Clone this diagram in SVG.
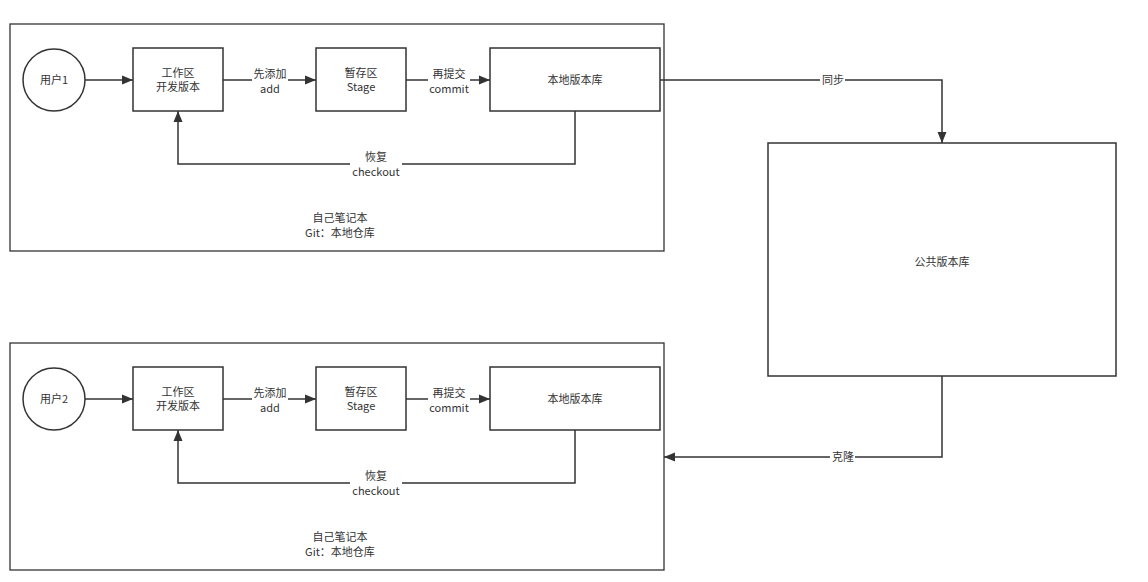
<svg xmlns="http://www.w3.org/2000/svg" width="1148" height="582" viewBox="0 0 1148 582">
<defs>
<marker id="arr" markerUnits="userSpaceOnUse" markerWidth="12" markerHeight="10" refX="11" refY="5" orient="auto">
<path d="M0,0.5 L11,5 L0,9.5 z" fill="#333"/>
</marker>
<style>
.box{fill:#fff;stroke:#333;stroke-width:1.5}
.cont{fill:#fff;stroke:#333;stroke-width:1.3}
.edge{fill:none;stroke:#333;stroke-width:1.5}
text{font-family:"Noto Sans CJK SC","Liberation Sans",sans-serif;font-size:11px;fill:#333;text-anchor:middle}
.lbg{fill:#fff}
</style>
</defs>
<rect width="1148" height="582" fill="#fff"/>

<g id="laptop1">
<rect class="cont" x="10" y="24" width="654" height="227"/>
<text x="340" y="222">自己笔记本</text>
<text x="340" y="237">Git：本地仓库</text>
</g>
<g id="laptop2">
<rect class="cont" x="10" y="343" width="654" height="227"/>
<text x="340" y="541">自己笔记本</text>
<text x="340" y="556">Git：本地仓库</text>
</g>

<g id="user1"><circle class="box" cx="54" cy="80" r="31"/><text x="54" y="84">用户1</text></g>
<g id="work1"><rect class="box" x="133" y="48" width="90" height="63"/><text x="178" y="77">工作区</text><text x="178" y="91">开发版本</text></g>
<g id="stage1"><rect class="box" x="316" y="48" width="90" height="63"/><text x="361" y="77">暂存区</text><text x="361" y="91">Stage</text></g>
<g id="local1"><rect class="box" x="490" y="48" width="170" height="63"/><text x="575" y="84">本地版本库</text></g>

<g id="user2"><circle class="box" cx="54" cy="399" r="31"/><text x="54" y="403">用户2</text></g>
<g id="work2"><rect class="box" x="133" y="367" width="90" height="63"/><text x="178" y="396">工作区</text><text x="178" y="410">开发版本</text></g>
<g id="stage2"><rect class="box" x="316" y="367" width="90" height="63"/><text x="361" y="396">暂存区</text><text x="361" y="410">Stage</text></g>
<g id="local2"><rect class="box" x="490" y="367" width="170" height="63"/><text x="575" y="403">本地版本库</text></g>

<g id="public"><rect class="box" x="768" y="143" width="348" height="233"/><text x="942" y="266">公共版本库</text></g>

<g id="connectors">
<path class="edge" d="M85,80 L133,80" marker-end="url(#arr)"/>
<path class="edge" d="M223,80 L316,80" marker-end="url(#arr)"/>
<rect class="lbg" x="252" y="68" width="36" height="29"/>
<text x="270" y="78">先添加</text><text x="270" y="93">add</text>
<path class="edge" d="M406,80 L490,80" marker-end="url(#arr)"/>
<rect class="lbg" x="428" y="68" width="42" height="29"/>
<text x="449" y="78">再提交</text><text x="449" y="93">commit</text>
<path class="edge" d="M575,111 L575,164 L178,164 L178,111" marker-end="url(#arr)"/>
<rect class="lbg" x="350" y="152" width="52" height="29"/>
<text x="376" y="161">恢复</text><text x="376" y="176">checkout</text>

<path class="edge" d="M85,399 L133,399" marker-end="url(#arr)"/>
<path class="edge" d="M223,399 L316,399" marker-end="url(#arr)"/>
<rect class="lbg" x="252" y="387" width="36" height="29"/>
<text x="270" y="397">先添加</text><text x="270" y="412">add</text>
<path class="edge" d="M406,399 L490,399" marker-end="url(#arr)"/>
<rect class="lbg" x="428" y="387" width="42" height="29"/>
<text x="449" y="397">再提交</text><text x="449" y="412">commit</text>
<path class="edge" d="M575,430 L575,483 L178,483 L178,430" marker-end="url(#arr)"/>
<rect class="lbg" x="350" y="471" width="52" height="29"/>
<text x="376" y="480">恢复</text><text x="376" y="495">checkout</text>

<path class="edge" d="M660,80 L942,80 L942,143" marker-end="url(#arr)"/>
<rect class="lbg" x="820" y="74" width="25" height="13"/>
<text x="833" y="84">同步</text>
<path class="edge" d="M942,376 L942,457 L664,457" marker-end="url(#arr)"/>
<rect class="lbg" x="830" y="451" width="25" height="13"/>
<text x="843" y="461">克隆</text>
</g>
</svg>
